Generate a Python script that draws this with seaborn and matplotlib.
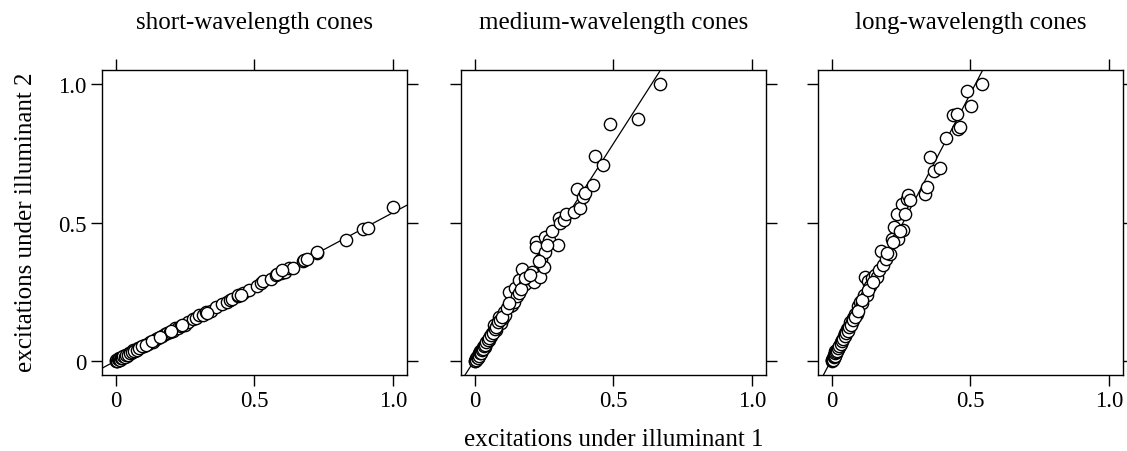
import matplotlib
matplotlib.use("Agg")
import matplotlib.pyplot as plt
import seaborn as sns

# cone excitations, illuminant 1 (x) vs illuminant 2 (y)
s_x = [0.0, 0.003, 0.006, 0.01, 0.013, 0.017, 0.02, 0.025, 0.03, 0.035,
       0.04, 0.048, 0.055, 0.062, 0.07, 0.08, 0.09, 0.1, 0.104, 0.115,
       0.122, 0.135, 0.145, 0.152, 0.165, 0.176, 0.185, 0.194, 0.206, 0.215,
       0.225, 0.235, 0.248, 0.26, 0.28, 0.29, 0.30, 0.314, 0.326, 0.344,
       0.36, 0.383, 0.40, 0.413, 0.418, 0.44, 0.44, 0.46, 0.48, 0.51,
       0.524, 0.53, 0.56, 0.578, 0.596, 0.61, 0.626, 0.64, 0.675, 0.68,
       0.725, 0.725, 0.83, 0.89, 0.91, 1.0]
s_y = [0.002, 0.0, 0.006, 0.004, 0.01, 0.008, 0.012, 0.016, 0.014, 0.022,
       0.02, 0.029, 0.03, 0.04, 0.035, 0.047, 0.05, 0.056, 0.06, 0.062,
       0.068, 0.07, 0.08, 0.083, 0.09, 0.097, 0.1, 0.106, 0.11, 0.118,
       0.12, 0.127, 0.131, 0.14, 0.152, 0.155, 0.165, 0.168, 0.178, 0.181,
       0.195, 0.207, 0.213, 0.222, 0.225, 0.235, 0.24, 0.245, 0.257, 0.27,
       0.282, 0.288, 0.298, 0.31, 0.318, 0.322, 0.335, 0.337, 0.36, 0.365,
       0.39, 0.395, 0.436, 0.475, 0.48, 0.555]
# extra points hidden in the dense low range
s_x2 = [0.002, 0.005, 0.008, 0.011, 0.015, 0.018, 0.022, 0.027, 0.033, 0.038,
        0.044, 0.05, 0.058, 0.066, 0.075, 0.085, 0.095, 0.11, 0.13, 0.16,
        0.2, 0.24, 0.33, 0.45, 0.58, 0.6, 0.69]
s_y2 = [0.004, 0.002, 0.007, 0.009, 0.006, 0.013, 0.01, 0.018, 0.015, 0.024,
        0.022, 0.03, 0.034, 0.038, 0.042, 0.048, 0.055, 0.06, 0.072, 0.088,
        0.108, 0.13, 0.175, 0.24, 0.315, 0.328, 0.37]

m_x = [0.0, 0.003, 0.005, 0.007, 0.01, 0.012, 0.015, 0.018, 0.02, 0.024,
       0.027, 0.03, 0.035, 0.04, 0.045, 0.05, 0.055, 0.06, 0.063, 0.069,
       0.075, 0.08, 0.087, 0.093, 0.1, 0.105, 0.11, 0.122, 0.128, 0.134,
       0.14, 0.146, 0.152, 0.158, 0.158, 0.17, 0.182, 0.19, 0.206, 0.215,
       0.221, 0.221, 0.234, 0.239, 0.248, 0.254, 0.254, 0.266, 0.278, 0.299,
       0.302, 0.308, 0.32, 0.33, 0.359, 0.368, 0.38, 0.39, 0.398, 0.428,
       0.432, 0.462, 0.488, 0.588, 0.668]
m_y = [0.0, 0.005, 0.01, 0.011, 0.016, 0.02, 0.029, 0.026, 0.035, 0.036,
       0.041, 0.05, 0.052, 0.065, 0.071, 0.075, 0.09, 0.092, 0.101, 0.131,
       0.112, 0.13, 0.161, 0.137, 0.155, 0.179, 0.165, 0.25, 0.2, 0.203,
       0.215, 0.263, 0.235, 0.293, 0.245, 0.333, 0.277, 0.3, 0.323, 0.284,
       0.43, 0.413, 0.305, 0.37, 0.34, 0.449, 0.395, 0.436, 0.47, 0.418,
       0.516, 0.497, 0.508, 0.53, 0.538, 0.622, 0.553, 0.592, 0.608, 0.637,
       0.741, 0.709, 0.855, 0.873, 1.0]
m_x2 = [0.002, 0.004, 0.006, 0.009, 0.011, 0.014, 0.016, 0.019, 0.022, 0.026,
        0.03, 0.033, 0.038, 0.042, 0.048, 0.052, 0.058, 0.066, 0.072, 0.078,
        0.084, 0.09, 0.097, 0.115, 0.125, 0.165, 0.18, 0.2, 0.23, 0.26]
m_y2 = [0.002, 0.008, 0.006, 0.014, 0.012, 0.022, 0.019, 0.031, 0.03, 0.04,
        0.044, 0.056, 0.058, 0.07, 0.078, 0.085, 0.096, 0.1, 0.115, 0.125,
        0.14, 0.15, 0.16, 0.19, 0.21, 0.26, 0.3, 0.31, 0.36, 0.42]

l_x = [0.0, 0.002, 0.004, 0.006, 0.008, 0.01, 0.012, 0.015, 0.018, 0.021,
       0.025, 0.03, 0.034, 0.038, 0.043, 0.048, 0.054, 0.06, 0.066, 0.072,
       0.078, 0.085, 0.09, 0.096, 0.102, 0.108, 0.115, 0.12, 0.126, 0.129,
       0.138, 0.145, 0.155, 0.162, 0.17, 0.178, 0.186, 0.195, 0.21, 0.216,
       0.225, 0.234, 0.24, 0.252, 0.256, 0.264, 0.27, 0.273, 0.282, 0.336,
       0.344, 0.354, 0.37, 0.39, 0.411, 0.438, 0.45, 0.456, 0.462, 0.489,
       0.501, 0.54]
l_y = [0.003, 0.0, 0.01, 0.021, 0.012, 0.022, 0.035, 0.03, 0.04, 0.045,
       0.05, 0.06, 0.068, 0.075, 0.09, 0.101, 0.116, 0.12, 0.143, 0.14,
       0.155, 0.17, 0.169, 0.2, 0.214, 0.21, 0.24, 0.305, 0.238, 0.289,
       0.27, 0.3, 0.31, 0.305, 0.33, 0.397, 0.347, 0.37, 0.385, 0.442,
       0.484, 0.53, 0.439, 0.566, 0.472, 0.53, 0.586, 0.6, 0.58, 0.602,
       0.628, 0.738, 0.686, 0.698, 0.805, 0.888, 0.892, 0.836, 0.844, 0.974,
       0.92, 1.0]
l_x2 = [0.001, 0.003, 0.005, 0.007, 0.009, 0.011, 0.013, 0.016, 0.019, 0.023,
        0.027, 0.032, 0.036, 0.041, 0.046, 0.051, 0.057, 0.063, 0.069, 0.075,
        0.082, 0.094, 0.11, 0.132, 0.15, 0.2, 0.22, 0.245]
l_y2 = [0.006, 0.008, 0.004, 0.016, 0.018, 0.02, 0.028, 0.034, 0.036, 0.046,
        0.055, 0.062, 0.072, 0.08, 0.092, 0.1, 0.11, 0.125, 0.132, 0.148,
        0.16, 0.18, 0.22, 0.255, 0.285, 0.39, 0.43, 0.47]

titles = ["short-wavelength cones", "medium-wavelength cones", "long-wavelength cones"]
tick_vals = [0, 0.5, 1.0]
tick_labels = ["0", "0.5", "1.0"]

sns.set_style("ticks")
plt.rcParams["font.family"] = ["Liberation Serif", "DejaVu Serif"]
plt.rcParams["text.color"] = "black"
plt.rcParams["axes.edgecolor"] = "black"
plt.rcParams["xtick.color"] = "black"
plt.rcParams["ytick.color"] = "black"

fig = plt.figure(figsize=(11.27, 4.52), dpi=100)
lefts = [0.0905, 0.409, 0.7258]
panels = [(s_x + s_x2, s_y + s_y2), (m_x + m_x2, m_y + m_y2), (l_x + l_x2, l_y + l_y2)]

for i, (xs, ys) in enumerate(panels):
    ax = fig.add_axes([lefts[i], 0.168, 0.2706, 0.675])
    ax.set_xlim(-0.05, 1.05)
    ax.set_ylim(-0.05, 1.05)
    sns.regplot(x=xs, y=ys, ax=ax, ci=None, truncate=False, color="black",
                scatter_kws=dict(s=78, facecolor="white", edgecolor="black",
                                 linewidths=1.0, alpha=1, zorder=3),
                line_kws=dict(color="black", lw=0.9, zorder=2))
    ax.set_xlim(-0.05, 1.05)
    ax.set_ylim(-0.05, 1.05)
    ax.set_xticks(tick_vals)
    ax.set_xticklabels(tick_labels)
    ax.set_yticks(tick_vals)
    ax.set_yticklabels(tick_labels)
    ax.tick_params(direction="out", length=8, width=1, top=True, right=True,
                   labelsize=16.5, pad=3)
    if i > 0:
        ax.tick_params(labelleft=False)
    for sp in ax.spines.values():
        sp.set_linewidth(1.0)
    ax.set_xlabel("")
    ax.set_ylabel("")
    ax.text(0.5, 1.137, titles[i], transform=ax.transAxes, ha="center",
            va="baseline", fontsize=18)

fig.text(613.5 / 1127, 1 - 446 / 452, "excitations under illuminant 1",
         ha="center", va="baseline", fontsize=18)
fig.text(26 / 1127, 1 - 222.5 / 452, "excitations under illuminant 2", rotation=90,
         ha="center", va="center", fontsize=18)

fig.savefig("out.png", dpi=100)
